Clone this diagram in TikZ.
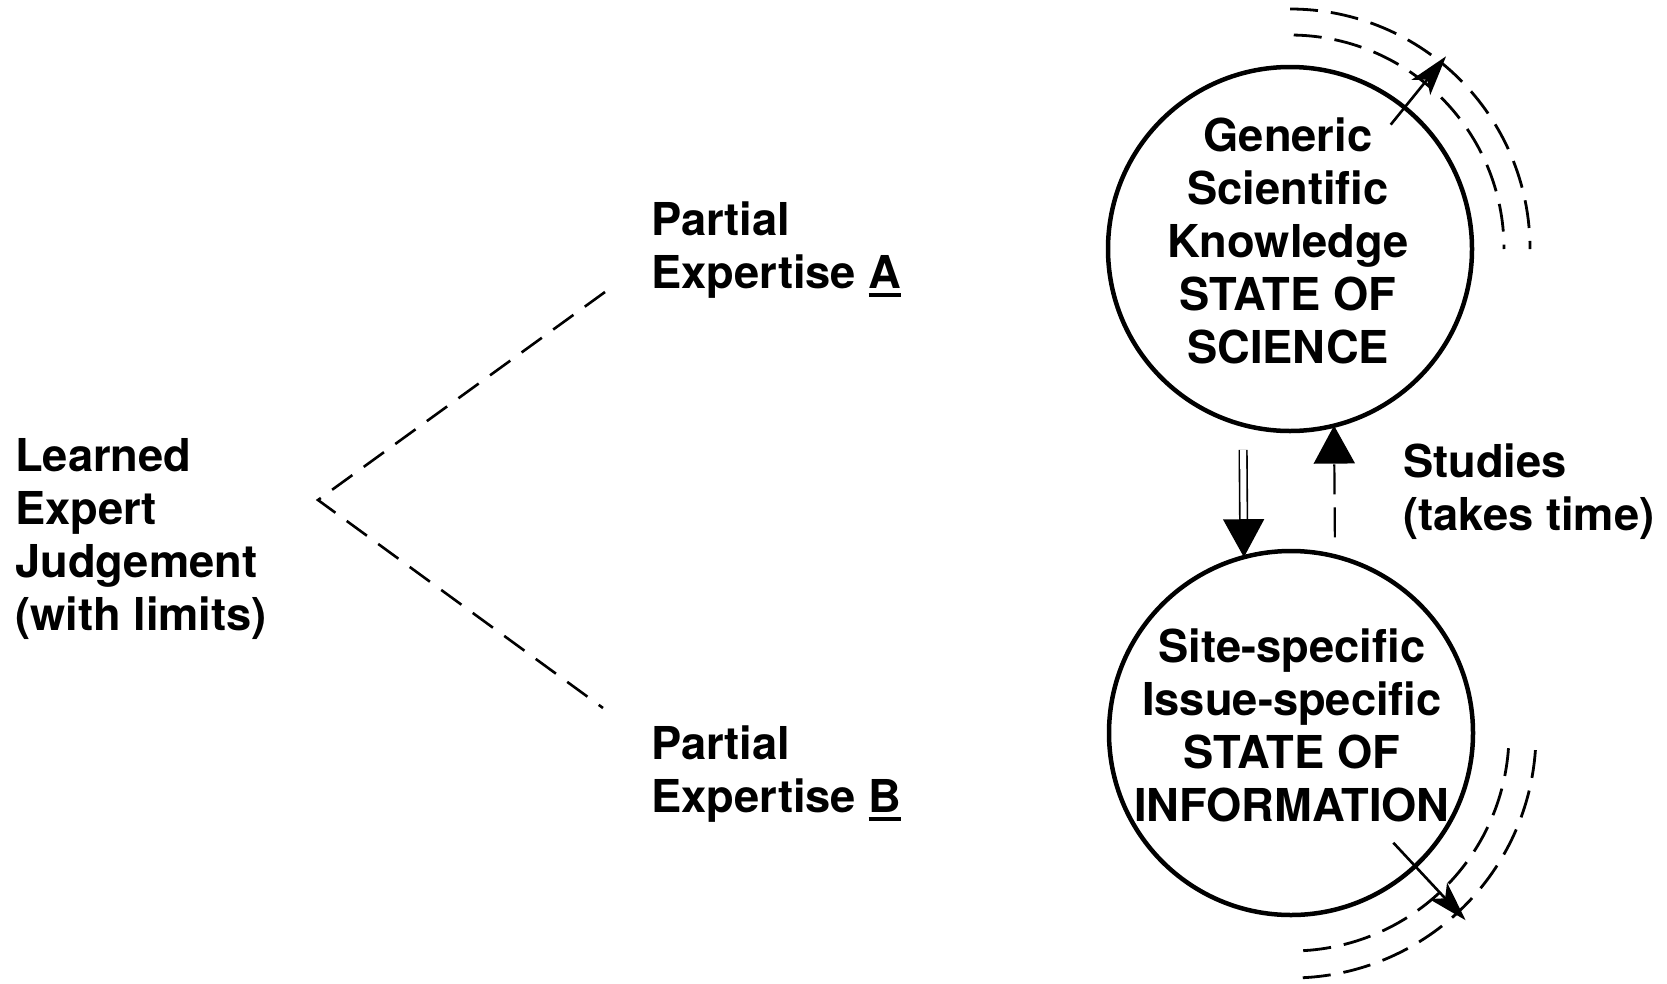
\documentclass[tikz,border=0pt]{standalone}
\usepackage{fontspec}
\setmainfont{TeX Gyre Heros}
\usetikzlibrary{arrows.meta,positioning,calc}
\newcommand{\ulletter}[1]{\setbox0\hbox{#1}\rlap{\rule[-8pt]{\wd0}{4pt}}\box0}

\begin{document}
\begin{tikzpicture}[x=1pt,y=1pt,>=Latex,
  txt/.style={inner sep=0pt,font={\bfseries\fontsize{45.3pt}{53pt}\selectfont}},
  state/.style={draw,circle,line width=4.5pt,minimum size=364pt,inner sep=0pt,outer sep=0pt},
  ring/.style={line width=2.8pt,dash pattern=on 28pt off 13pt},
  fork/.style={line width=2.6pt,dash pattern=on 25pt off 14pt},
  outarrow/.style={line width=2.6pt,-{Stealth[length=40pt,width=24pt,inset=10pt]}},
  bigtip/.style={-{Triangle[length=38pt,width=41pt]}}]
  \useasboundingbox (0,0) rectangle (1667,-983);
  \node[txt,align=left,anchor=north west] (learned) at (15,-438)
    {Learned\\Expert\\Judgement\\(with limits)};
  \node[txt,align=left,anchor=north west] (partA) at (651,-202)
    {Partial\\Expertise \ulletter{A}};
  \node[txt,align=left,anchor=north west] (partB) at (651,-726)
    {Partial\\Expertise \ulletter{B}};
  \node[state] (science) at (1290,-249) {};
  \node[state] (info) at (1291,-733) {};
  \node[txt,align=center] (scienceText) at (1288,-241)
    {Generic\\Scientific\\Knowledge\\STATE OF\\SCIENCE};
  \node[txt,align=center] (infoText) at (1292,-725)
    {Site-specific\\Issue-specific\\STATE OF\\INFORMATION};
  \node[txt,align=left,anchor=north west] (studies) at (1403,-444)
    {Studies\\(takes time)};
  \coordinate (vertex) at (318,-500);
  \coordinate (endA) at (605,-292);
  \coordinate (endB) at (603,-708);
  \draw[fork] (endA) -- (vertex) -- (endB);
  \draw[ring] ($(science.center)+(90:240)$) arc[start angle=90,end angle=0,radius=240];
  \draw[ring] ($(science.center)+(89:214)$) arc[start angle=89,end angle=0,radius=214];
  \draw[ring] ($(info.center)+(-4:245)$) arc[start angle=-4,end angle=-89,radius=245];
  \draw[ring] ($(info.center)+(-4:218)$) arc[start angle=-4,end angle=-89,radius=218];
  \draw[outarrow] ($(science.center)+(51:160)$) -- ($(science.center)+(51:248)$);
  \draw[outarrow] ($(info.center)+(-47:150)$) -- ($(info.center)+(-47:256)$);
  \draw[bigtip,line width=1.6pt,double,double distance=6pt,shorten <=25pt] (science.255) -- (info.105);
  \draw[bigtip,line width=2.2pt,dash pattern=on 30pt off 13pt,shorten <=19pt] (info.76) -- (science.-76);
\end{tikzpicture}
\end{document}
